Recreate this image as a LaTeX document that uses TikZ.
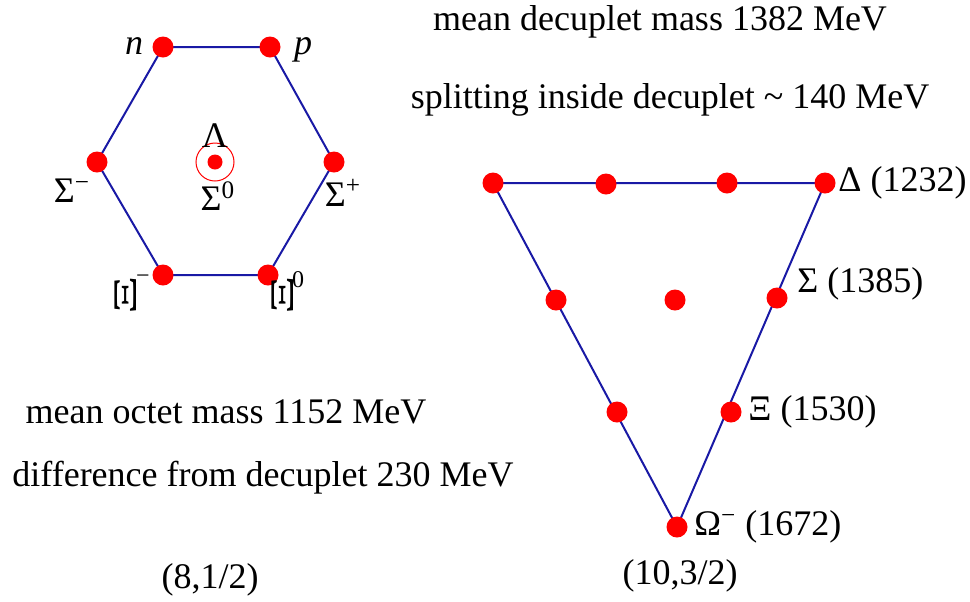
\documentclass[tikz,border=0pt]{standalone}
\usepackage{fontspec}
\setmainfont{Liberation Serif}
\usetikzlibrary{backgrounds}
\definecolor{lineblue}{RGB}{25,25,165}
\newcommand{\turnedxi}{\rotatebox{90}{\scalebox{2}[1.1]{Ξ}}}
\begin{document}
\begin{tikzpicture}[x=0.5pt, y=-0.5pt,
    font=\fontsize{18}{20}\selectfont,
    dot/.style={circle, fill=red, inner sep=0pt, minimum size=10.5pt},
    cdot/.style={circle, fill=red, inner sep=0pt, minimum size=7.5pt},
    side/.style={draw=lineblue, line width=1pt},
    lbl/.style={inner sep=0pt},
    sup/.style={inner sep=0pt, font=\fontsize{12}{12}\selectfont},
    turned/.style={inner sep=0pt, font=\fontsize{15}{15}\selectfont},
]
\useasboundingbox (0,0) rectangle (970,601);

% octet
\node[dot] (n)    at (163,47)  {};
\node[dot] (p)    at (270,47)  {};
\node[dot] (sm)   at (97,162)  {};
\node[dot] (sp)   at (334,162) {};
\node[dot] (xm)   at (163,275) {};
\node[dot] (x0)   at (268,275) {};
\node[cdot] (lam) at (215,162) {};
\node[draw=red, circle, line width=0.5pt, minimum size=19pt] (ring) at (lam) {};

\begin{scope}[on background layer]
\draw[side] (n.center) -- (p.center) -- (sp.center) -- (x0.center)
            -- (xm.center) -- (sm.center) -- cycle;
\end{scope}

\node[lbl] (nlab) at (134,46)  {\textit{n}};
\node[lbl] (plab) at (303,50)  {\textit{p}};
\node[lbl] (llab) at (215,136) {Λ};
\node[lbl] (s0lab) at (218,196) {Σ\textsuperscript{0}};
\node[lbl] (smlab) at (72,191) {Σ\textsuperscript{−}};
\node[lbl] (splab) at (343,193) {Σ\textsuperscript{+}};
\node[turned] (xmlab) at (126,295) {\turnedxi};
\node[sup] (xmsup) at (143,279) {−};
\node[turned] (x0lab) at (283,295) {\turnedxi};
\node[sup] (x0sup) at (298,280) {0};

% decuplet
\node[dot] (d1) at (493,183) {};
\node[dot] (d2) at (606,184) {};
\node[dot] (d3) at (727,183) {};
\node[dot] (d4) at (825,183) {};
\node[dot] (s1) at (556,300) {};
\node[dot] (s2) at (675,300) {};
\node[dot] (s3) at (777,298) {};
\node[dot] (c1) at (617,412) {};
\node[dot] (c2) at (731,412) {};
\node[dot] (om) at (677,527) {};

\begin{scope}[on background layer]
\draw[side] (d1.center) -- (d4.center) -- (om.center) -- cycle;
\end{scope}

\node[lbl, anchor=west] (dlab)  at (838,183) {Δ (1232)};
\node[lbl, anchor=west] (slab)  at (797,284) {Σ (1385)};
\node[lbl, anchor=west] (xlab)  at (748,412) {Ξ (1530)};
\node[lbl, anchor=west] (olab)  at (694,527) {Ω\textsuperscript{−} (1672)};

% texts
\node[lbl] (t1) at (660,22)  {mean decuplet mass 1382 MeV};
\node[lbl] (t2) at (670,100) {splitting inside decuplet \textasciitilde{} 140 MeV};
\node[lbl] (t3) at (226,412) {mean octet mass 1152 MeV};
\node[lbl] (t4) at (263,478) {difference from decuplet 230 MeV};
\node[lbl] (r8)  at (210,580) {(8,1/2)};
\node[lbl] (r10) at (680,576) {(10,3/2)};
\end{tikzpicture}
\end{document}
